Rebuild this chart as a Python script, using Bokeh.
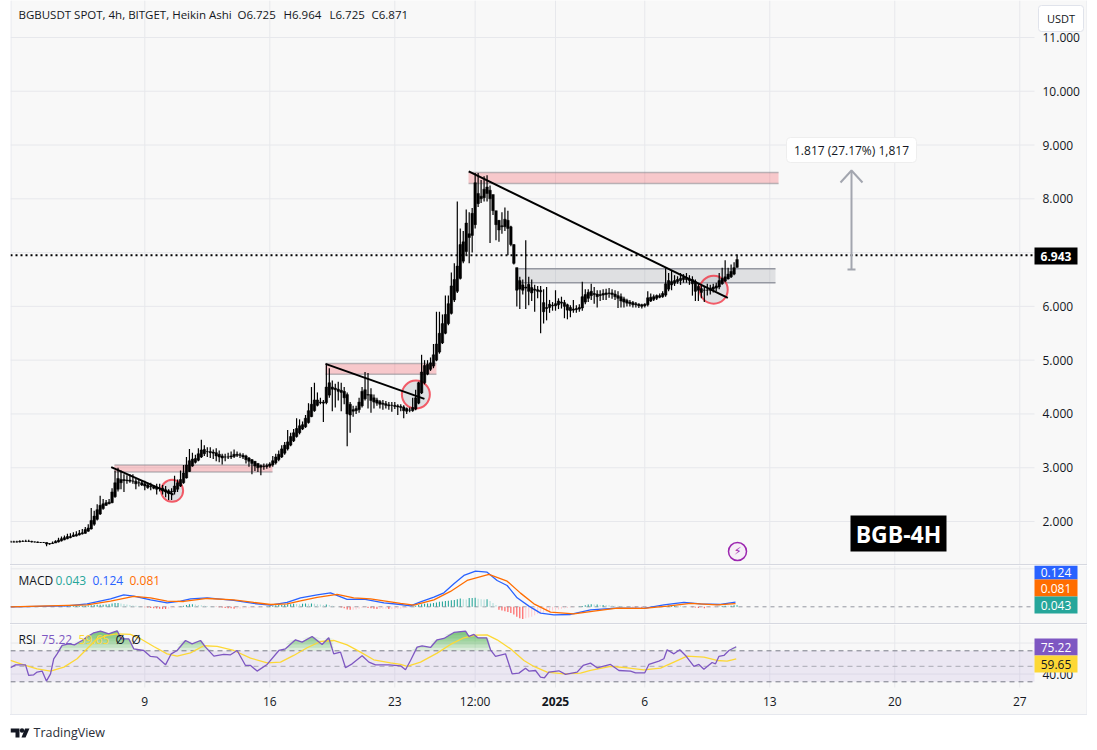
import numpy as np
from bokeh.plotting import figure
from bokeh.layouts import column
from bokeh.models import Range1d, Label, Div
from bokeh.core.properties import value
from bokeh.embed import file_html
from bokeh.resources import INLINE

# ---- candles (4h Heikin Ashi), first candle at day 1.5 (days counted from 30 Nov)
first_day = 1.5
candle_open = [
1.62,1.62,1.62,1.62,1.63,1.63,1.63,1.63,1.62,1.62,
1.61,1.61,1.61,1.58,1.59,1.60,1.62,1.64,1.66,1.68,
1.70,1.72,1.73,1.75,1.77,1.78,1.82,1.86,1.95,2.04,
2.14,2.24,2.30,2.33,2.35,2.46,2.60,2.72,2.76,2.77,
2.77,2.75,2.75,2.72,2.72,2.70,2.68,2.65,2.65,2.64,
2.62,2.62,2.59,2.57,2.55,2.55,2.60,2.66,2.72,2.81,
2.93,3.03,3.10,3.14,3.20,3.26,3.30,3.30,3.29,3.28,
3.25,3.22,3.20,3.20,3.20,3.21,3.23,3.24,3.23,3.22,
3.18,3.15,3.12,3.08,3.04,3.02,3.02,3.03,3.05,3.09,
3.15,3.20,3.27,3.35,3.42,3.50,3.58,3.65,3.72,3.76,
3.84,3.95,4.06,4.16,4.21,4.22,4.21,4.35,4.46,4.48,
4.46,4.44,4.42,4.36,4.18,4.08,4.06,4.08,4.15,4.28,
4.36,4.36,4.30,4.26,4.23,4.20,4.19,4.17,4.16,4.16,
4.15,4.14,4.13,4.10,4.07,4.06,4.09,4.20,4.39,4.58,
4.74,4.83,4.89,5.00,5.15,5.32,5.50,5.68,5.87,6.12,
6.28,6.52,6.84,7.02,7.28,7.32,7.52,7.91,8.00,8.02,
8.10,8.16,8.08,7.78,7.60,7.48,7.48,7.60,7.48,7.15,
6.72,6.48,6.40,6.36,6.41,6.35,6.30,6.31,6.30,6.07,
5.98,6.04,6.01,6.01,6.03,6.06,6.07,6.03,5.98,5.95,
5.94,5.95,5.97,6.08,6.15,6.20,6.24,6.23,6.20,6.21,
6.22,6.24,6.25,6.23,6.20,6.18,6.14,6.11,6.08,6.07,
6.05,6.04,6.03,6.01,6.03,6.10,6.13,6.15,6.17,6.18,
6.21,6.32,6.40,6.43,6.46,6.48,6.50,6.52,6.51,6.50,
6.46,6.37,6.33,6.30,6.30,6.30,6.32,6.34,6.36,6.42,
6.47,6.51,6.55,6.60,6.725]
candle_close = [
1.62,1.62,1.62,1.63,1.63,1.63,1.63,1.62,1.62,1.61,
1.61,1.61,1.58,1.59,1.60,1.63,1.65,1.68,1.70,1.72,
1.72,1.75,1.76,1.78,1.79,1.85,1.88,2.02,2.10,2.22,
2.30,2.33,2.35,2.36,2.55,2.72,2.80,2.78,2.78,2.76,
2.75,2.75,2.70,2.72,2.68,2.66,2.63,2.66,2.62,2.60,
2.61,2.57,2.55,2.52,2.56,2.66,2.72,2.78,2.90,3.05,
3.13,3.16,3.17,3.26,3.33,3.34,3.30,3.28,3.27,3.22,
3.20,3.18,3.20,3.20,3.22,3.25,3.25,3.23,3.20,3.15,
3.12,3.08,3.03,3.00,3.01,3.03,3.04,3.07,3.13,3.20,
3.25,3.35,3.42,3.48,3.58,3.65,3.73,3.78,3.80,3.92,
4.06,4.18,4.26,4.26,4.22,4.20,4.50,4.58,4.50,4.45,
4.42,4.40,4.30,4.00,3.98,4.05,4.10,4.22,4.42,4.45,
4.35,4.25,4.22,4.20,4.18,4.18,4.16,4.15,4.16,4.14,
4.13,4.12,4.06,4.05,4.07,4.12,4.30,4.58,4.78,4.90,
4.92,4.95,5.10,5.30,5.50,5.68,5.85,6.05,6.38,6.50,
6.75,7.15,7.20,7.55,7.35,7.73,8.30,8.10,8.05,8.18,
8.22,8.00,7.78,7.52,7.42,7.50,7.62,7.45,7.15,6.80,
6.30,6.32,6.30,6.34,6.28,6.25,6.32,6.28,6.27,5.90,
5.96,5.98,6.02,6.05,6.10,6.08,6.00,5.93,5.92,5.93,
5.96,5.98,6.18,6.22,6.26,6.28,6.22,6.18,6.22,6.24,
6.25,6.25,6.22,6.18,6.15,6.10,6.08,6.06,6.05,6.03,
6.03,6.01,6.00,6.04,6.16,6.17,6.18,6.20,6.20,6.24,
6.42,6.48,6.46,6.48,6.50,6.52,6.54,6.50,6.48,6.42,
6.28,6.30,6.26,6.30,6.30,6.34,6.36,6.38,6.48,6.52,
6.55,6.60,6.65,6.72,6.871]
candle_high = [
1.64,1.64,1.64,1.65,1.65,1.66,1.66,1.64,1.63,1.63,
1.62,1.62,1.61,1.60,1.63,1.65,1.70,1.72,1.74,1.77,
1.78,1.80,1.82,1.84,1.86,1.90,1.95,2.25,2.20,2.32,
2.48,2.42,2.40,2.42,2.62,2.95,3.00,2.95,2.88,2.86,
2.88,2.88,2.80,2.78,2.76,2.76,2.72,2.72,2.68,2.70,
2.70,2.68,2.66,2.60,2.62,2.85,2.78,2.95,3.05,3.20,
3.35,3.28,3.24,3.36,3.52,3.42,3.38,3.38,3.34,3.36,
3.32,3.26,3.26,3.28,3.30,3.34,3.30,3.28,3.27,3.24,
3.20,3.16,3.12,3.08,3.06,3.08,3.08,3.10,3.22,3.26,
3.32,3.42,3.48,3.70,3.65,3.72,3.92,3.90,3.86,3.98,
4.20,4.50,4.58,4.40,4.30,4.26,4.92,4.85,4.62,4.56,
4.60,4.58,4.50,4.40,4.22,4.15,4.15,4.30,4.50,4.78,
4.76,4.48,4.36,4.30,4.26,4.26,4.24,4.22,4.22,4.22,
4.18,4.18,4.16,4.12,4.12,4.30,4.45,4.60,5.10,5.00,
5.00,5.05,5.30,5.90,5.90,5.85,6.20,6.20,6.63,6.80,
7.95,7.45,7.40,7.80,7.75,7.83,8.48,8.48,8.35,8.42,
8.44,8.25,8.00,7.75,7.60,7.75,7.84,7.78,7.50,7.15,
6.72,6.55,6.50,7.23,6.55,6.50,6.40,6.38,6.38,6.32,
6.36,6.12,6.08,6.30,6.15,6.18,6.12,6.05,6.02,6.12,
6.02,6.04,6.46,6.32,6.32,6.42,6.36,6.30,6.30,6.32,
6.33,6.34,6.32,6.30,6.28,6.24,6.18,6.14,6.12,6.10,
6.08,6.06,6.05,6.06,6.28,6.24,6.22,6.22,6.24,6.28,
6.71,6.62,6.66,6.58,6.56,6.62,6.60,6.62,6.58,6.56,
6.50,6.42,6.38,6.38,6.42,6.40,6.42,6.44,6.62,6.72,
6.86,6.72,6.78,6.82,6.964]
candle_low = [
1.61,1.61,1.61,1.61,1.62,1.62,1.62,1.61,1.61,1.60,
1.60,1.60,1.54,1.57,1.58,1.60,1.61,1.63,1.65,1.67,
1.69,1.71,1.72,1.74,1.76,1.77,1.81,1.85,1.92,2.02,
2.12,2.22,2.29,2.32,2.34,2.44,2.56,2.60,2.55,2.70,
2.72,2.70,2.60,2.65,2.66,2.58,2.61,2.58,2.60,2.50,
2.56,2.50,2.45,2.40,2.40,2.50,2.55,2.64,2.70,2.80,
2.92,3.02,3.08,3.12,3.18,3.22,3.20,3.18,3.16,3.12,
3.10,3.06,3.12,3.16,3.16,3.18,3.20,3.18,3.16,3.08,
3.02,2.88,2.94,2.92,2.86,2.96,2.98,3.00,3.02,3.06,
3.12,3.18,3.24,3.32,3.40,3.48,3.56,3.62,3.70,3.74,
3.82,3.94,4.04,4.14,4.18,3.85,4.18,4.30,4.05,4.12,
4.25,4.05,4.18,3.40,3.65,3.95,4.00,4.02,4.12,4.25,
4.10,4.02,4.10,4.15,4.10,4.08,4.10,4.08,4.04,4.09,
3.98,4.05,3.92,4.00,4.03,4.04,4.07,4.18,4.37,4.55,
4.72,4.80,4.85,4.98,5.12,5.30,5.48,5.65,5.85,6.08,
6.25,6.50,6.80,6.95,6.80,7.00,7.45,7.85,7.92,7.95,
7.95,7.18,7.70,7.23,7.20,7.35,7.40,6.95,7.12,6.78,
6.00,5.95,6.22,5.95,6.02,6.10,5.90,6.15,5.50,5.68,
5.74,5.88,5.92,5.92,5.95,5.96,5.78,5.76,5.80,5.88,
5.88,5.90,5.92,6.04,6.08,6.12,6.05,5.98,6.10,6.12,
6.12,6.16,6.14,6.12,5.97,5.98,5.98,6.00,6.00,5.98,
5.98,5.97,5.96,5.98,6.00,6.08,6.10,6.12,6.15,6.16,
6.18,6.28,6.30,6.38,6.42,6.40,6.44,6.44,6.40,6.20,
6.10,6.10,6.15,6.08,6.20,6.22,6.26,6.28,6.32,6.40,
6.45,6.50,6.53,6.58,6.725]

# ---- MACD histogram, one per candle
macd_hist = [
0,0,0,0,0,0,0,0,0,0,0,0,-.005,-.005,-.005,0,.005,
.01,.01,.015,.015,.02,.02,.02,.025,.03,.035,.04,.05,.055,.055,.055,.06,.07,.09,.10,
.10,.085,.075,.06,.05,.035,.03,.02,
.01,-.01,-.02,-.03,-.04,-.045,-.05,-.055,-.06,-.05,-.04,-.03,
-.015,.01,.03,.05,.065,.07,.06,.05,.04,.03,.02,
.01,.005,-.005,-.01,-.02,-.03,-.035,-.04,-.05,-.05,-.05,-.045,-.04,-.035,-.03,-.025,-.02,-.01,0,
.01,.02,.03,.04,.05,.05,.06,.07,.07,.08,.075,.07,.08,.085,.08,.09,.08,.07,.06,.05,.06,.05,
.03,.01,0,-.02,-.04,-.07,-.08,-.08,-.07,-.05,-.03,-.02,-.03,-.04,-.05,-.055,-.055,-.05,-.05,-.06,-.06,-.06,-.05,-.05,-.04,-.03,
-.01,.01,.03,.05,.07,.08,.09,.09,.10,.11,.13,.14,.15,.16,.17,.18,.20,.22,.20,.19,.23,.23,.24,.21,.20,.19,.20,
.15,.10,.05,-.08,-.10,-.12,-.14,-.16,-.20,-.26,-.30,-.32,-.30,-.28,-.26,-.22,-.19,-.17,-.15,-.13,-.12,-.10,-.08,-.07,-.05,-.04,-.03,
-.02,-.01,0,.01,.02,.04,.06,.065,.06,.06,.05,.05,.045,.04,.035,.03,.025,.02,.015,.01,.005,
-.01,-.02,-.02,-.025,-.02,-.015,-.01,-.005,.005,.01,.015,.02,.03,.03,.035,.03,.025,.02,.015,.01,-.01,-.02,-.03,-.03,-.035,-.03,-.025,-.02,-.015,.005,.02,.03,.025,.03,.04,.043]

macd_day = [1.48,4.65,5.77,7.08,7.82,8.38,9.32,10.25,11.0,11.56,12.49,13.98,15.1,16.04,16.97,17.72,18.65,19.4,20.33,21.27,22.39,23.32,
23.88,24.44,25.19,25.75,26.31,26.87,27.52,28.17,28.73,29.29,29.85,30.51,31.16,31.91,32.84,33.96,35.45,36.95,38.07,39.19,40.12,41.24,42.08]
macd_line = [0,.026,.079,.21,.316,.281,.184,.105,.149,.21,.237,.167,.088,.044,.114,.237,.316,.368,.193,.202,.105,.061,
.026,.132,.254,.368,.605,.825,.939,.912,.693,.561,.237,.018,-.167,-.211,-.202,-.079,-.035,-.044,.053,.114,.079,.061,.124]
signal_day = [1.48,5.77,7.08,8.38,9.32,10.25,11.18,12.49,13.98,15.1,16.04,16.97,17.72,18.65,19.77,20.7,21.64,23.32,
24.07,25.19,26.12,27.05,28.27,29.29,30.04,30.79,31.72,33.03,34.15,35.45,36.95,38.25,39.56,41.05,42.08]
signal_line = [0,.053,.149,.272,.237,.149,.14,.219,.184,.114,.061,.079,.158,.246,.325,.237,.21,.088,
.044,.184,.404,.693,.851,.675,.36,.079,-.14,-.184,-.114,-.035,-.044,.018,.088,.053,.081]

# ---- RSI
rsi_day = [1.48,1.76,2.32,2.50,2.78,2.97,3.25,3.49,3.72,3.90,4.09,4.37,4.75,5.06,5.49,5.81,6.14,6.52,6.98,7.45,7.68,8.10,8.38,8.94,9.32,9.69,10.16,10.48,10.81,11.28,11.65,12.12,12.40,12.87,13.42,13.80,14.17,14.64,14.92,15.29,15.85,16.51,16.88,17.44,17.81,18.37,18.93,19.30,19.58,19.96,20.24,20.61,21.17,21.55,21.92,22.67,23.32,
23.60,23.88,24.25,24.53,25.0,25.37,25.75,26.31,26.96,27.15,27.43,27.65,28.14,28.36,28.64,29.2,29.57,29.95,30.32,30.51,30.88,31.16,31.38,31.63,32.19,32.56,33.21,33.55,33.96,34.33,35.08,35.55,36.2,36.48,37.0,37.23,37.79,38.07,38.25,38.63,38.96,39.28,39.75,40.03,40.31,40.77,40.96,41.15,41.43,41.71,42.12]
rsi_val = [48.1,51.9,51.9,38.2,39.0,42.5,43.8,30.9,40.3,59.7,66.1,76.9,79.0,77.7,83.3,88.5,93.2,95.4,91.9,95.8,85.5,85.5,72.6,70.4,62.7,61.8,51.9,66.1,70.4,83.3,79.0,83.3,74.7,63.1,65.3,64.8,70.4,51.1,51.1,43.8,52.4,70.4,72.6,84.2,81.2,88.5,78.2,86.8,66.1,68.3,48.1,53.2,63.5,55.4,51.9,51.9,50.6,
45.5,57.5,74.7,76.5,74.3,84.2,85.9,93.7,95.4,88.5,91.1,86.8,86.8,71.3,62.7,66.1,40.3,41.2,47.6,43.8,44.6,36.0,35.2,42.5,44.2,39.5,42.5,51.1,54.1,48.1,52.4,44.6,43.8,41.6,41.6,52.4,56.7,59.7,71.3,66.1,71.3,64.0,49.8,52.4,46.3,54.9,53.2,62.7,64.0,70.4,75.22]
rsi_ma_day = [1.48,2.22,2.97,3.72,4.47,5.21,5.77,6.33,6.89,7.45,8.20,8.76,9.50,10.25,10.81,11.56,12.30,13.05,13.98,14.92,15.85,16.60,17.34,18.09,18.84,19.58,20.33,21.08,21.82,22.76,
23.32,23.69,24.44,25.37,26.12,26.87,27.52,28.17,28.73,29.48,30.23,30.79,31.53,32.47,33.4,33.96,35.08,36.01,36.95,37.88,38.63,39.37,40.31,41.05,41.61,42.12]
rsi_ma_val = [57.5,51.9,46.8,43.8,48.9,59.7,72.6,85.5,89.8,91.9,91.1,85.5,75.6,66.1,63.1,67.4,76.5,75.6,70.4,60.5,54.5,55.4,64.0,73.9,82.0,83.3,77.7,68.3,58.4,54.5,
52.4,49.8,55.4,67.0,78.2,86.8,90.2,90.6,84.2,72.6,57.5,49.8,42.5,40.3,41.2,44.6,49.8,48.1,45.5,47.6,55.4,63.1,61.8,57.5,56.7,59.65]

# ---- ticks and drawings
day_ticks = [9, 16, 23, 27.5, 32, 37, 44, 51, 58]
day_tick_labels = ["9", "16", "23", "12:00", "2025", "6", "13", "20", "27"]
price_ticks = [2, 3, 4, 5, 6, 7, 8, 9, 10, 11]
last_price = 6.95
pink_left = [7.30, 19.12, 27.13]
pink_right = [16.15, 25.33, 44.49]
pink_top = [3.05, 4.94, 8.49]
pink_bottom = [2.92, 4.74, 8.285]
gray_zone = (29.93, 44.32, 6.70, 6.44)
trend_x = [[7.12, 10.61], [19.12, 24.66], [27.14, 41.65]]
trend_y = [[3.01, 2.50], [4.93, 4.28], [8.51, 6.16]]
ring_x = [10.53, 24.18, 40.86]
ring_y = [2.57, 4.36, 6.31]
ring_size = [22, 28, 28]

BG = "#f8f8f8"; GRID = "#e7e8ec"; INK = "#131722"; FONT = "Open Sans"
W = 1077; LEFT = 10
DAY_PX = 17.857
def dx(px): return 9 + (px - 144.3) / DAY_PX          # page pixel -> day (layout of texts only)
def py(y): return 2 + (521 - y) / 53.78               # page pixel -> price
def my(y): return (606.3 - y) / 38.0                  # page pixel -> MACD
def ry(y): return 70 - (y - 650.3) / 0.775            # page pixel -> RSI

shared_x = Range1d(dx(10), dx(1087))
PLOT_L, PLOT_R = dx(10), dx(1034)

def pane(h, y0, y1, hticks, vtop=None, vbottom=None):
    """A pane whose frame also holds the price scale column on its right."""
    p = figure(width=W, height=h, x_range=shared_x, y_range=Range1d(y0, y1),
               output_backend="svg", toolbar_location=None, min_border=0, min_border_left=0,
               min_border_right=0, min_border_top=0, min_border_bottom=0,
               background_fill_color=BG, border_fill_color=BG, outline_line_color=None)
    p.xaxis.visible = False; p.yaxis.visible = False; p.grid.visible = False
    vb = y0 if vbottom is None else vbottom
    p.segment(day_ticks, vb, day_ticks, y1, line_color=GRID, line_width=1)
    p.segment(PLOT_L, hticks, PLOT_R, hticks, line_color=GRID, line_width=1)
    p.segment([dx(10.5), dx(1086.5)], y0, [dx(10.5), dx(1086.5)], y1, line_color="#e6e8ee", line_width=1)
    return p

def scale_labels(p, ticks, fmt):
    p.text(dx(1042), ticks, text=[format(v, fmt) for v in ticks], text_font=value(FONT), text_font_size="12px",
           text_color=INK, text_baseline="middle", text_align="left")

def txt(p, x, y, s, color=INK, size="12px", style="normal", align="left", font=FONT):
    p.add_layout(Label(x=x, y=y, text=s, text_color=color, text_font_size=size, text_font=font,
                       text_font_style=style, text_align=align, text_baseline="middle"))

def tag(p, conv, y_top, y_bot, s, bg, color="#ffffff", style="normal"):
    p.quad(left=[dx(1034)], right=[dx(1077)], top=[conv(y_top)], bottom=[conv(y_bot)], fill_color=bg, line_color=None)
    txt(p, dx(1055.5), conv((y_top + y_bot) / 2), s, color=color, style=style, align="center")

def sep(h, c):
    return Div(width=W, height=h, margin=0, styles={"background-color": c})

# ---------------- main pane
p = pane(564, py(564), py(0), price_ticks)
scale_labels(p, price_ticks, ".3f")
n = len(candle_close)
t = first_day + np.arange(n) / 6
o, c, hi, lo = map(np.array, (candle_open, candle_close, candle_high, candle_low))

p.quad(left=pink_left, right=pink_right, top=pink_top, bottom=pink_bottom, fill_color="#f23645", fill_alpha=0.25, line_color=None)
for yy in (pink_top, pink_bottom):
    p.segment(pink_left, yy, pink_right, yy, line_color="#8f8f96", line_alpha=0.6, line_width=1.5)
gl, gr, gt, gb = gray_zone
p.quad(left=[gl], right=[gr], top=[gt], bottom=[gb], fill_color="#9598a1", fill_alpha=0.25, line_color=None)
p.segment([gl, gl], [gt, gb], [gr, gr], [gt, gb], line_color="#9598a1", line_width=1.5)

p.scatter(ring_x, ring_y, size=ring_size, marker="circle", fill_color="#b2b5be", fill_alpha=0.35,
          line_color="#f23645", line_alpha=0.8, line_width=2)
p.segment(t, lo, t, hi, line_color="#000000", line_width=1.2)
p.vbar(t, 0.14, o, c, fill_color="#000000", line_color="#000000", line_width=0.5)
p.multi_line(trend_x, trend_y, line_color="#000000", line_width=2)
p.line([PLOT_L, PLOT_R], [last_price] * 2, line_color="#000000", line_width=2, line_dash="2 3")

# projection arrow
ax = dx(851)
p.multi_line([[ax, ax], [dx(840), ax, dx(862)], [dx(847), dx(855)]],
             [[py(269), py(171)], [py(182), py(170), py(182)], [py(269), py(269)]],
             line_color="#a3a6af", line_width=2)
p.quad(left=[dx(786)], right=[dx(916)], top=[py(137)], bottom=[py(162)], fill_color="#ffffff",
       line_color="#eeeeee", line_width=1, border_radius=4)
txt(p, dx(851), py(149.5), "1.817 (27.17%) 1,817", align="center")

# header
hs = "11.5px"
txt(p, dx(18), py(14), "BGBUSDT SPOT, 4h, BITGET, Heikin Ashi", size=hs)
txt(p, dx(237), py(14), "O6.725", size=hs)
txt(p, dx(283), py(14), "H6.964", size=hs)
txt(p, dx(329), py(14), "L6.725", size=hs)
txt(p, dx(371), py(14), "C6.871", size=hs)

# BGB-4H badge and icon
p.quad(left=[dx(850)], right=[dx(946)], top=[py(515)], bottom=[py(551)], fill_color="#000000", line_color=None)
txt(p, dx(898), py(533.5), "BGB-4H", color="#ffffff", size="23px", style="bold", align="center")
p.scatter([dx(737)], [py(551)], size=18, marker="circle", fill_color="#f3e5f5", fill_alpha=0.5, line_color="#9c27b0", line_width=1.5)
txt(p, dx(737), py(551), "\u26a1", color="#9c27b0", size="11px", align="center", font="DejaVu Sans")

# price tags
tag(p, py, 247, 264, "6.943", "#000000", style="bold")
p.quad(left=[dx(1038)], right=[dx(1083)], top=[py(5)], bottom=[py(31)], fill_color="#ffffff", line_color="#e0e3eb",
       line_width=1, border_radius=3)
txt(p, dx(1060.5), py(18), "USDT", size="11px", align="center")

# ---------------- MACD pane
m = pane(58, my(623), my(565), [1])
hist = np.array(macd_hist)
prev = np.r_[hist[0], hist[:-1]]
hist_color = ["#26a69a" if (h >= 0 and h >= q) else "#b2dfdb" if h >= 0 else "#ffcdd2" if h >= q else "#ff5252"
              for h, q in zip(hist, prev)]
m.line([PLOT_L, PLOT_R], [0, 0], line_color="#9598a1", line_dash="4 4", line_width=1)
m.vbar(t, 0.06, 0, hist, fill_color=hist_color, line_color=None)
m.line(macd_day, macd_line, line_color="#2962ff", line_width=1.3)
m.line(signal_day, signal_line, line_color="#ff6d00", line_width=1.3)
mh = 580
txt(m, dx(18), my(mh), "MACD")
txt(m, dx(55), my(mh), "0.043", color="#26a69a")
txt(m, dx(92), my(mh), "0.124", color="#2962ff")
txt(m, dx(129), my(mh), "0.081", color="#ff6d00")
tag(m, my, 565, 579, "0.124", "#2962ff")
tag(m, my, 579, 596, "0.081", "#ff6d00")
tag(m, my, 596, 613, "0.043", "#26a69a")

# ---------------- RSI pane (frame also holds the time scale row)
r = pane(90, ry(714), ry(624), [40, 80], vbottom=ry(687))
scale_labels(r, [40], ".2f")
r.quad(left=[PLOT_L], right=[PLOT_R], top=[70], bottom=[30], fill_color="#7e57c2", fill_alpha=0.1, line_color=None)
rsi_arr = np.array(rsi_val)
for level in [70, 74, 78, 82, 86, 90, 94]:
    r.varea(rsi_day, np.full(len(rsi_arr), level), np.maximum(rsi_arr, level), fill_color="#4caf50", fill_alpha=0.17)
r.line([PLOT_L, PLOT_R], [70, 70], line_color="#787b86", line_dash="5 4")
r.line([PLOT_L, PLOT_R], [50, 50], line_color="#a9abb3", line_dash="5 4")
r.line([PLOT_L, PLOT_R], [30, 30], line_color="#787b86", line_dash="5 4")
r.line(rsi_ma_day, rsi_ma_val, line_color="#fdd835", line_width=1.3)
r.line(rsi_day, rsi_val, line_color="#7e57c2", line_width=1.3)
rh = 639
txt(r, dx(18), ry(rh), "RSI")
txt(r, dx(41), ry(rh), "75.22", color="#7e57c2")
txt(r, dx(78), ry(rh), "59.65", color="#fdd835")
txt(r, dx(115), ry(rh), "\u00d8")
txt(r, dx(131), ry(rh), "\u00d8")
for d, s in zip(day_ticks, day_tick_labels):
    txt(r, d, ry(701), s, align="center", style="bold" if s == "2025" else "normal")
tag(r, ry, 638, 655, "75.22", "#7e57c2")
tag(r, ry, 655, 672, "59.65", "#fdd835", color=INK)

# ---------------- footer with the mark
f = figure(width=W, height=27, x_range=Range1d(0, W), y_range=Range1d(27, 0), output_backend="svg", toolbar_location=None,
           min_border=0, min_border_left=0, min_border_right=0, min_border_top=0, min_border_bottom=0,
           outline_line_color=None, background_fill_color="#ffffff", border_fill_color="#ffffff",
           x_axis_type=None, y_axis_type=None)
f.grid.visible = False
f.patches([[0, 9, 9, 5, 5, 0], [14.5, 19, 15, 11]], [[13, 13, 22, 22, 17, 17], [13, 13, 22, 22]], fill_color="#131722", line_color=None)
f.scatter([11.5], [15], size=4.5, marker="circle", fill_color="#131722", line_color=None)
f.add_layout(Label(x=23, y=17, text="TradingView", text_font=FONT, text_font_size="12.5px", text_color="#2a2e39",
                   text_baseline="middle", text_align="left"))

page = column(p, sep(1, "#d6d8e0"), m, sep(1, "#d6d8e0"), r, sep(1, "#e6e8ee"), f, margin=(0, 0, 0, LEFT), spacing=0)
open("out.html", "w").write(file_html(page, INLINE))
